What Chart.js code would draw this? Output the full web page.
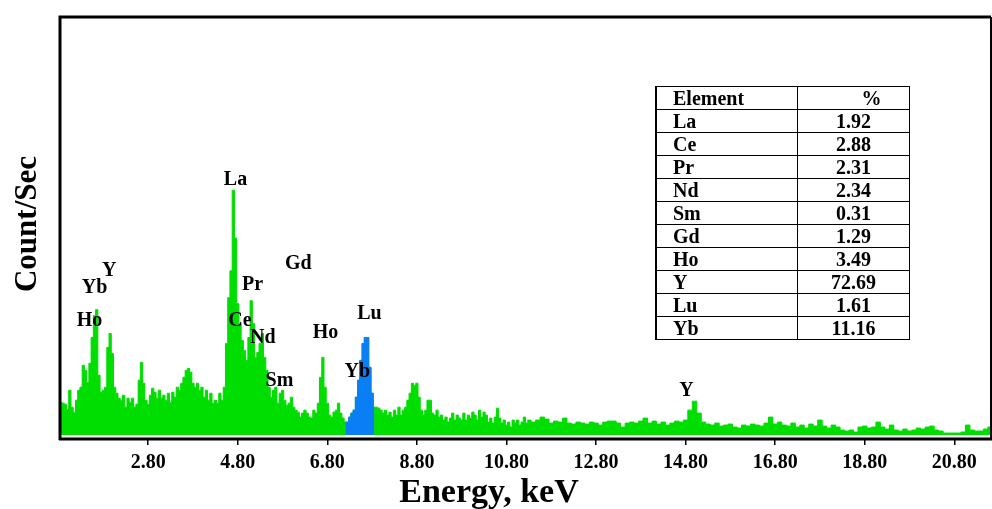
<!DOCTYPE html>
<html>
<head>
<meta charset="utf-8">
<script src="https://cdn.jsdelivr.net/npm/chart.js@4.4.1/dist/chart.umd.min.js"></script>
<style>
html,body{margin:0;padding:0;background:#fff;}
#wrap{position:relative;width:992px;height:509px;overflow:hidden;background:#fff;}
#c{position:absolute;left:0;top:0;}
#tbl{position:absolute;left:655px;top:86px;border-collapse:collapse;font-family:"Liberation Serif","Times New Roman",serif;font-weight:bold;font-size:20px;color:#000;}
#tbl td{border:1.5px solid #000;padding:0;height:22px;line-height:20px;white-space:nowrap;}
#tbl td.el{width:124px;padding-left:16px;text-align:left;border-left-width:2px;}
#tbl td.pc{width:111px;text-align:center;}
#tbl tr:first-child td.pc{padding-left:36px;width:75px;}
</style>
</head>
<body>
<div id="wrap">
<canvas id="c" width="992" height="509"></canvas>
<table id="tbl"></table>
</div>
<script>
// ---- Spectrum (counts, arbitrary units) ----
// fine channels: 0.85 keV .. 11.30 keV, 0.05 keV per channel
const fineStart = 0.85, fineStep = 0.05;
const countsFine = [
  33,32,31,26,45,28,23,35,45,48,70,65,53,72,98,120,126,60,43,45,
  48,88,102,82,48,42,37,35,40,28,37,33,37,28,31,55,73,52,35,31,
  40,47,43,37,45,37,40,35,42,33,43,38,48,45,52,58,65,67,63,52,
  48,52,45,48,38,45,35,42,32,35,32,42,35,48,92,138,165,246,198,132,
  112,95,85,75,98,135,112,78,83,92,102,78,65,48,38,45,48,32,42,45,
  35,30,32,38,28,25,23,18,22,25,22,18,17,25,22,32,58,78,48,32,
  20,18,23,25,32,22,17,13,13,18,22,25,38,55,75,92,98,98,68,42,
  28,28,27,25,22,25,20,23,18,25,20,28,20,25,28,35,42,52,50,52,
  38,25,20,25,35,35,22,20,25,18,20,15,18,13,17,22,15,20,17,15,
  22,15,20,17,23,20,15,25,18,23,20,13,17,12,18,27,17,12,15,10,
  13,8,15,12,15,10,13,18,12,15
];
// coarse channels: 11.4 keV .. 21.6 keV, 0.1 keV per channel
const coarseStart = 11.4, coarseStep = 0.1;
const countsCoarse = [
  13,15,18,16,12,14,13,17,12,11,13,12,11,13,12,10,13,14,14,12,
  8,12,13,12,14,17,12,14,11,13,10,12,14,13,15,25,34,22,13,11,
  10,12,9,10,11,8,7,10,9,11,10,9,12,18,11,13,10,9,12,8,
  10,7,11,9,15,9,7,10,8,5,4,5,3,8,9,7,8,13,8,6,
  10,5,4,6,4,5,7,6,8,9,5,4,2,2,2,2,3,10,5,4,
  4,6,8
];
// highlighted (Lu / Yb) energy window, keV
const highlightRange = [7.20, 7.85];

// axis
const xRange = [0.83, 21.62];
const tickValues = [2.8, 4.8, 6.8, 8.8, 10.8, 12.8, 14.8, 16.8, 18.8, 20.8];
const xTitle = 'Energy, keV';
const yTitle = 'Count/Sec';

// peak labels
const peakLabels      = ['La','Yb','Y','Ho','Pr','Gd','Ce','Nd','Sm','Ho','Lu','Yb','Y'];
const peakLabelEnergy = [4.75,1.60,1.93,1.49,5.13,6.15,4.85,5.36,5.73,6.76,7.74,7.47,14.82];
const peakLabelCount  = [256,148,165,115,151,172,115,98,54,103,122,63,44];

// composition table
const elements = ['La','Ce','Pr','Nd','Sm','Gd','Ho','Y','Lu','Yb'];
const percents = ['1.92','2.88','2.31','2.34','0.31','1.29','3.49','72.69','1.61','11.16'];

// ---- build ----
const spectrum = [];
countsFine.forEach((c, i) => spectrum.push({x: +(fineStart + i * fineStep).toFixed(2), y: c}));
countsCoarse.forEach((c, i) => spectrum.push({x: +(coarseStart + i * coarseStep).toFixed(2), y: c}));
const highlight = spectrum.filter(p => p.x >= highlightRange[0] - 1e-6 && p.x <= highlightRange[1] + 1e-6);

// table
const tbl = document.getElementById('tbl');
function addRow(a, b) {
  const tr = document.createElement('tr');
  const td1 = document.createElement('td'); td1.className = 'el'; td1.textContent = a;
  const td2 = document.createElement('td'); td2.className = 'pc'; td2.textContent = b;
  tr.appendChild(td1); tr.appendChild(td2); tbl.appendChild(tr);
}
addRow('Element', '%');
elements.forEach((e, i) => addRow(e, percents[i]));

const FONT = '"Liberation Serif","Times New Roman",serif';

const framePlugin = {
  id: 'frame',
  afterDatasetsDraw(chart) {
    const {ctx, scales: {x, y}} = chart;
    ctx.save();
    ctx.fillStyle = '#000';
    ctx.font = 'bold 20px ' + FONT;
    ctx.textAlign = 'center';
    ctx.textBaseline = 'middle';
    peakLabels.forEach((t, i) => {
      ctx.fillText(t, x.getPixelForValue(peakLabelEnergy[i]), y.getPixelForValue(peakLabelCount[i]));
    });
    ctx.restore();
  },
  afterDraw(chart) {
    const {ctx, chartArea: a} = chart;
    ctx.save();
    ctx.strokeStyle = '#000';
    ctx.lineWidth = 3;
    ctx.beginPath();
    ctx.moveTo(a.left, a.bottom + 1);
    ctx.lineTo(a.left, a.top);
    ctx.lineTo(a.right, a.top);
    ctx.stroke();
    ctx.lineWidth = 2;
    ctx.beginPath();
    ctx.moveTo(a.right, a.top);
    ctx.lineTo(a.right, a.bottom);
    ctx.stroke();
    ctx.lineWidth = 3;
    ctx.beginPath();
    ctx.moveTo(a.left - 1, a.bottom);
    ctx.lineTo(a.right + 1, a.bottom);
    ctx.stroke();
    // axis titles
    ctx.fillStyle = '#000';
    ctx.textAlign = 'center';
    ctx.textBaseline = 'middle';
    ctx.font = 'bold 34px ' + FONT;
    ctx.fillText(xTitle, 489, 493);
    ctx.translate(28, 224);
    ctx.rotate(-Math.PI / 2);
    ctx.font = 'bold 31px ' + FONT;
    ctx.fillText(yTitle, 0, 0);
    ctx.restore();
  }
};

new Chart(document.getElementById('c'), {
  type: 'line',
  data: {
    datasets: [
      {data: highlight, borderColor: '#0A7FF5', backgroundColor: '#0A7FF5', fill: 'origin',
       stepped: 'middle', pointRadius: 0, borderWidth: 1, order: 1},
      {data: spectrum, borderColor: '#00DD00', backgroundColor: '#00DD00', fill: 'origin',
       stepped: 'middle', pointRadius: 0, borderWidth: 1, order: 2}
    ]
  },
  options: {
    responsive: false,
    animation: false,
    devicePixelRatio: 1,
    layout: {padding: {top: 17, right: 1, left: 0, bottom: 0}},
    plugins: {legend: {display: false}, tooltip: {enabled: false}},
    scales: {
      x: {
        type: 'linear', min: xRange[0], max: xRange[1],
        afterBuildTicks: s => { s.ticks = tickValues.map(v => ({value: v})); },
        afterFit: s => { s.height = 70; },
        ticks: {autoSkip: false, maxRotation: 0, color: '#000', padding: 6,
                font: {family: FONT, size: 20, weight: 'bold'},
                callback: v => Number(v).toFixed(2)},
        grid: {display: true, drawOnChartArea: false, drawTicks: true, tickLength: 6, color: '#000', lineWidth: 1.5},
        border: {display: false},
        title: {display: false}
      },
      y: {
        min: -4, max: 420,
        afterFit: s => { s.width = 60; },
        ticks: {display: false},
        grid: {display: false},
        border: {display: false},
        title: {display: false}
      }
    }
  },
  plugins: [framePlugin]
});
</script>
</body>
</html>
